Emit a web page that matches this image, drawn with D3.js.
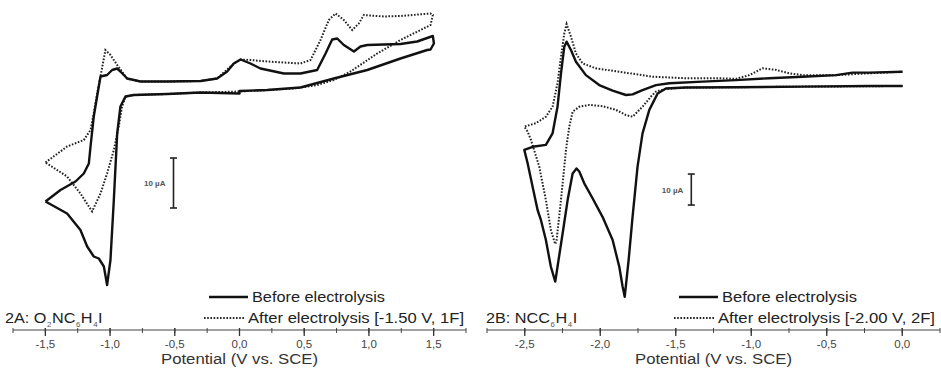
<!DOCTYPE html>
<html><head><meta charset="utf-8">
<script src="https://cdn.jsdelivr.net/npm/d3@7"></script>
<style>body{margin:0;background:#fff}svg{display:block;font-family:"Liberation Sans",Arial,sans-serif}</style>
</head><body><svg id="c" width="941" height="380"></svg>
<script>
// ---- data (potential V vs SCE, current µA) ----
const aBefore = [[-1.499,-21.3],[-1.383,-19.0],[-1.267,-17.3],[-1.203,-15.7],[-1.164,-13.7],[-1.151,-10.3],[-1.126,-4.3],[-1.100,-0.3],[-1.074,3.7],[-1.023,4.0],[-0.984,5.0],[-0.945,5.3],[-0.920,4.7],[-0.868,3.3],[-0.765,2.7],[-0.559,2.7],[-0.301,2.8],[-0.173,3.3],[-0.095,4.7],[-0.044,6.3],[0.008,7.1],[0.085,6.3],[0.162,5.3],[0.343,4.3],[0.471,4.3],[0.600,5.0],[0.665,8.3],[0.716,11.1],[0.755,11.3],[0.806,10.0],[0.884,8.7],[0.935,9.7],[0.987,10.0],[1.244,10.2],[1.373,10.7],[1.494,11.8],[1.502,10.3],[1.476,9.1],[1.450,9.0],[1.244,7.3],[0.987,5.0],[0.729,3.3],[0.471,1.5],[0.214,1.0],[0.0,0.8],[0.0,0.3],[-0.301,0.5],[-0.559,0.2],[-0.817,0.0],[-0.881,-0.3],[-0.920,-2.3],[-0.945,-7.7],[-0.971,-21.0],[-0.997,-33.0],[-1.023,-38.0],[-1.048,-34.3],[-1.087,-32.7],[-1.126,-32.3],[-1.177,-30.3],[-1.229,-27.0],[-1.332,-23.7],[-1.499,-21.3]];
const aAfter = [[-1.499,-13.5],[-1.332,-10.3],[-1.203,-9.0],[-1.151,-7.0],[-1.126,-3.7],[-1.100,0.3],[-1.074,3.7],[-1.036,9.0],[-0.997,8.0],[-0.945,6.0],[-0.868,3.3],[-0.765,2.7],[-0.559,2.7],[-0.301,2.8],[-0.173,3.3],[-0.044,6.3],[0.008,7.1],[0.085,7.0],[0.214,6.7],[0.471,6.3],[0.549,7.0],[0.626,11.0],[0.690,15.0],[0.742,16.3],[0.806,15.0],[0.871,13.0],[0.922,14.3],[0.961,16.0],[1.115,15.7],[1.244,15.8],[1.476,16.3],[1.494,16.0],[1.476,14.0],[1.399,13.0],[1.244,11.0],[1.064,8.3],[0.858,4.7],[0.729,3.0],[0.600,2.0],[0.420,1.3],[0.214,1.0],[0.0,0.7],[-0.301,0.5],[-0.559,0.2],[-0.817,0.0],[-0.881,-0.3],[-0.907,-2.3],[-0.933,-6.3],[-0.971,-11.0],[-1.023,-15.7],[-1.074,-19.7],[-1.139,-23.3],[-1.229,-19.7],[-1.332,-16.3],[-1.499,-13.5]];
const bBefore = [[0.002,0.0],[-0.219,0.0],[-0.660,-0.2],[-1.102,-0.4],[-1.433,-0.5],[-1.565,-0.8],[-1.620,-2.4],[-1.675,-7.7],[-1.720,-15.3],[-1.753,-26.0],[-1.786,-42.2],[-1.812,-56.1],[-1.838,-68.0],[-1.852,-64.7],[-1.874,-58.3],[-1.918,-49.7],[-1.985,-42.2],[-2.051,-36.2],[-2.106,-31.4],[-2.139,-27.6],[-2.157,-26.6],[-2.183,-28.2],[-2.216,-36.8],[-2.249,-47.5],[-2.283,-58.3],[-2.298,-63.1],[-2.327,-58.3],[-2.360,-49.7],[-2.393,-43.2],[-2.415,-40.0],[-2.448,-32.5],[-2.481,-24.9],[-2.503,-20.6],[-2.448,-19.6],[-2.360,-19.0],[-2.316,-15.3],[-2.283,-6.7],[-2.260,4.1],[-2.238,12.7],[-2.223,14.3],[-2.194,11.6],[-2.161,7.8],[-2.095,3.5],[-2.007,0.3],[-1.918,-1.5],[-1.830,-2.9],[-1.786,-2.7],[-1.720,-1.3],[-1.631,0.3],[-1.543,0.9],[-1.322,1.4],[-1.102,1.9],[-0.881,2.5],[-0.660,3.0],[-0.439,3.5],[-0.329,4.3],[-0.219,4.3],[0.002,4.6]];
const bAfter = [[0.002,0.0],[-0.660,-0.2],[-1.102,-0.4],[-1.433,-0.5],[-1.565,-0.9],[-1.631,-1.8],[-1.664,-3.4],[-1.720,-6.7],[-1.786,-9.9],[-1.830,-9.4],[-1.896,-7.7],[-1.985,-6.5],[-2.073,-6.1],[-2.139,-6.7],[-2.183,-8.3],[-2.205,-13.1],[-2.227,-20.6],[-2.249,-31.4],[-2.272,-42.2],[-2.289,-49.7],[-2.298,-51.0],[-2.327,-46.5],[-2.360,-36.8],[-2.404,-26.0],[-2.459,-17.4],[-2.481,-14.7],[-2.503,-13.1],[-2.426,-12.0],[-2.360,-9.9],[-2.316,-6.7],[-2.283,0.9],[-2.260,9.5],[-2.238,17.0],[-2.223,20.0],[-2.194,15.9],[-2.161,10.5],[-2.117,7.3],[-2.029,5.7],[-1.874,4.6],[-1.653,3.0],[-1.433,2.5],[-1.212,2.5],[-1.102,2.3],[-1.013,3.5],[-0.925,5.7],[-0.837,5.2],[-0.748,4.1],[-0.660,3.5],[-0.439,3.5],[-0.219,4.1],[0.002,4.6]];
const aTicks = [-1.5,-1.0,-0.5,0.0,0.5,1.0,1.5];
const bTicks = [-2.5,-2.0,-1.5,-1.0,-0.5,0.0];
const beforeLabel = "Before electrolysis";
const aAfterLabel = "After electrolysis [-1.50 V, 1F]";
const bAfterLabel = "After electrolysis [-2.00 V, 2F]";
const axisTitle = "Potential (V vs. SCE)";
const scaleLabel = "10 µA";
const scaleBarA = [-0.51, -12.6];   // [V, top current]
const scaleBarB = [-1.397, -28.4];

const svg = d3.select("#c");
const loc = d3.formatLocale({decimal:",", thousands:".", grouping:[3], currency:["",""], minus:"-"});
const fmt = loc.format(".1f");

function panel(cfg){
  const x = d3.scaleLinear().domain(cfg.xd).range(cfg.xr);
  const y = d3.scaleLinear().domain(cfg.yd).range(cfg.yr);
  const g = svg.append("g");
  const line = d3.line().x(d=>x(d[0])).y(d=>y(d[1]));
  g.append("path").attr("d", line(cfg.after)).attr("fill","none").attr("stroke","#222")
    .attr("stroke-width",2).attr("stroke-dasharray","1.6,1.6");
  g.append("path").attr("d", line(cfg.before)).attr("fill","none").attr("stroke","#111")
    .attr("stroke-width",2.4).attr("stroke-linejoin","round");
  // axis
  const ax = g.append("g").attr("transform",`translate(0,${cfg.axisY})`);
  const minor = d3.range(cfg.xd[0], cfg.xd[1]+1e-9, 0.25);
  ax.append("line").attr("x1",cfg.xr[0]).attr("x2",cfg.xr[1]).attr("stroke","#444").attr("stroke-width",1.2);
  ax.selectAll(".mn").data(minor).join("line").attr("x1",d=>x(d)).attr("x2",d=>x(d))
    .attr("y1",-2).attr("y2",3).attr("stroke","#444").attr("stroke-width",1);
  ax.selectAll(".mj").data(cfg.ticks).join("line").attr("x1",d=>x(d)).attr("x2",d=>x(d))
    .attr("y1",-2).attr("y2",6).attr("stroke","#333").attr("stroke-width",1.3);
  ax.selectAll(".tl").data(cfg.ticks).join("text").attr("x",d=>x(d)).attr("y",18)
    .attr("text-anchor","middle").attr("font-size",11.5).attr("fill","#444").text(d=>fmt(d));
  g.append("text").attr("x",(cfg.xr[0]+cfg.xr[1])/2).attr("y",364).attr("text-anchor","middle")
    .attr("font-size",14).attr("fill","#333").attr("textLength",157).attr("lengthAdjust","spacingAndGlyphs").text(axisTitle);
  // legend
  const lx = cfg.legX;
  g.append("line").attr("x1",lx).attr("x2",lx+39).attr("y1",297).attr("y2",297).attr("stroke","#111").attr("stroke-width",2.4);
  g.append("text").attr("x",lx+43).attr("y",301.5).attr("font-size",14).attr("fill","#222")
    .attr("textLength",cfg.bw).attr("lengthAdjust","spacingAndGlyphs").text(beforeLabel);
  g.append("line").attr("x1",lx-5).attr("x2",lx+36).attr("y1",318).attr("y2",318).attr("stroke","#222").attr("stroke-width",2).attr("stroke-dasharray","1.6,1.6");
  g.append("text").attr("x",lx+39).attr("y",322.5).attr("font-size",14).attr("fill","#222")
    .attr("textLength",cfg.aw).attr("lengthAdjust","spacingAndGlyphs").text(cfg.afterLabel);
  // panel label
  const t = g.append("g").attr("transform",`translate(${cfg.labX},323) scale(1.12,1)`)
    .append("text").attr("font-size",14.5).attr("fill","#222");
  cfg.label.forEach(p=>{
    if(p.sub) t.append("tspan").attr("font-size",7).attr("dx",0.5).attr("dy",4).attr("fill","#555").text(p.t);
    else t.append("tspan").attr("dx",p.after?0.5:0).attr("dy",p.after?-4:0).text(p.t);
  });
  // scale bar
  const bx = x(cfg.bar[0]), y1 = y(cfg.bar[1]), y2 = y(cfg.bar[1]-10);
  const sb = g.append("g").attr("stroke","#222").attr("stroke-width",1.6);
  sb.append("line").attr("x1",bx).attr("x2",bx).attr("y1",y1).attr("y2",y2);
  sb.append("line").attr("x1",bx-3.5).attr("x2",bx+3.5).attr("y1",y1).attr("y2",y1);
  sb.append("line").attr("x1",bx-3.5).attr("x2",bx+3.5).attr("y1",y2).attr("y2",y2);
  g.append("text").attr("x",bx-8).attr("y",(y1+y2)/2+3).attr("text-anchor","end")
    .attr("font-size",8).attr("font-weight","bold").attr("fill","#555").text(scaleLabel);
}

panel({xd:[-1.75,1.75], xr:[13,466], yd:[-40,17], yr:[295,10], axisY:330,
  before:aBefore, after:aAfter, ticks:aTicks, legX:209, labX:5, afterLabel:aAfterLabel, bw:133, aw:216,
  label:[{t:"2A: O"},{t:"2",sub:1},{t:"NC",after:1},{t:"6",sub:1},{t:"H",after:1},{t:"4",sub:1},{t:"I",after:1}],
  bar:scaleBarA});
panel({xd:[-2.75,0.25], xr:[487,940], yd:[-70,22], yr:[303,17.8], axisY:330,
  before:bBefore, after:bAfter, ticks:bTicks, legX:679, labX:486, afterLabel:bAfterLabel, bw:135, aw:217,
  label:[{t:"2B: NCC"},{t:"6",sub:1},{t:"H",after:1},{t:"4",sub:1},{t:"I",after:1}],
  bar:scaleBarB});
</script></body></html>
